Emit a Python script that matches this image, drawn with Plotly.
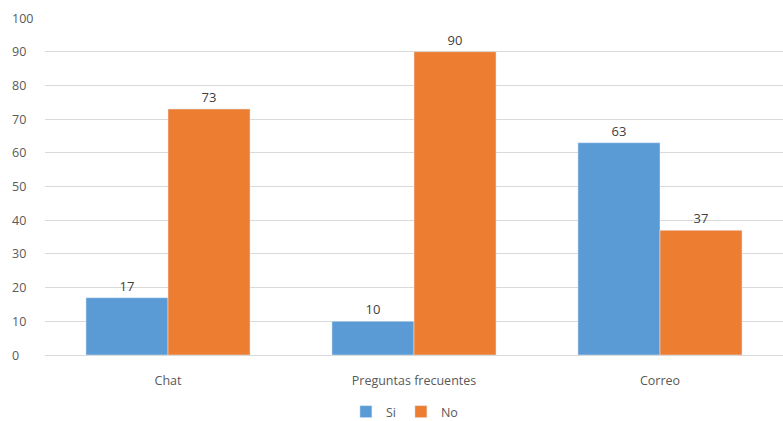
import plotly.graph_objects as go

categories = ["Chat", "Preguntas frecuentes", "Correo"]
si_values = [17, 10, 63]
no_values = [73, 90, 37]
y_ticks = list(range(0, 101, 10))

fig = go.Figure()
fig.add_trace(go.Bar(name="Si", x=categories, y=si_values, marker_color="#5B9BD5",
                     text=si_values, textposition="outside", cliponaxis=False,
                     textfont=dict(color="#404040", size=13)))
fig.add_trace(go.Bar(name="No", x=categories, y=no_values, marker_color="#ED7D31",
                     text=no_values, textposition="outside", cliponaxis=False,
                     textfont=dict(color="#404040", size=13)))

# left-aligned y tick labels, as in the reference (paper x relative to plot area 45..783 px)
label_x = (10 - 45) / (783 - 45)
for v in y_ticks:
    fig.add_annotation(x=label_x, xref="paper", xanchor="left", y=v, yref="y",
                       yanchor="middle", text=str(v), showarrow=False,
                       font=dict(size=12.5, color="#595959"))

fig.update_layout(
    width=783, height=421,
    margin=dict(l=45, r=0, t=18, b=66, autoexpand=False),
    plot_bgcolor="white", paper_bgcolor="white",
    barmode="group", bargap=0.333, bargroupgap=0,
    font=dict(family="Open Sans", size=12, color="#595959"),
    legend=dict(orientation="h", x=0.487, xanchor="center", yref="container",
                y=9 / 421, yanchor="middle",
                font=dict(size=12.5, color="#595959"), itemwidth=30),
    xaxis=dict(showline=True, linecolor="#D9D9D9", ticks="", tickfont=dict(size=12.5),
               ticklabelstandoff=14, automargin=False),
    yaxis=dict(range=[0, 100], tickvals=y_ticks, showgrid=True, gridcolor="#D9D9D9",
               zeroline=False, ticks="", showticklabels=False, automargin=False),
)

fig.write_html("out.html")
